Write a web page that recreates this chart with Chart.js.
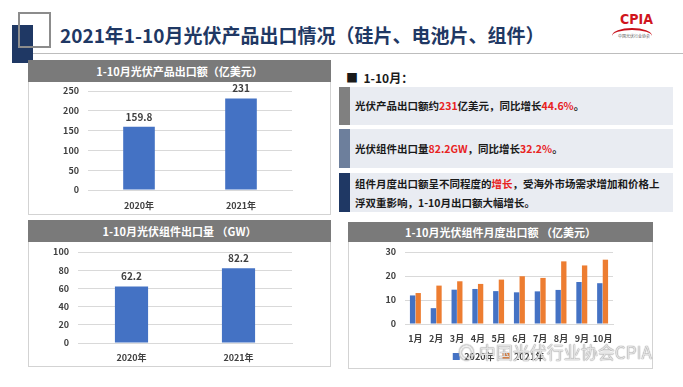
<!DOCTYPE html>
<html>
<head>
<meta charset="utf-8">
<script src="https://cdn.jsdelivr.net/npm/chart.js@4"></script>
<style>
  body { margin: 0; width: 683px; height: 387px; background: #fff; position: relative; overflow: hidden;
         font-family: "Noto Sans CJK SC", "Noto Sans", sans-serif; }
  .abs { position: absolute; }
  .hdr { position: absolute; background: #7a7a7a; color: #fff; font-weight: bold; font-size: 11px;
         text-align: center; line-height: 22px; height: 22px; }
  .box { position: absolute; border: 1px solid #d3d3d3; border-top: none; box-sizing: border-box; }
  .tb { position: absolute; left: 339px; width: 334px; background: #e9ecf2; font-weight: bold; font-size: 10.5px; color: #1a1a1a; }
  .tb .bar { position: absolute; left: 0; top: 0; bottom: 0; width: 11px; }
  .tb .t { position: absolute; left: 16px; right: 6px; }
  .red { color: #e8231f; }
</style>
</head>
<body>
<!-- title decoration -->
<div class="abs" style="left:12px;top:25px;width:21px;height:38px;background:#1f3864;"></div>
<div class="abs" style="left:18px;top:12px;width:29px;height:32px;border:2px solid #8c8c8c;"></div>
<div class="abs" style="left:33px;top:53px;width:650px;height:1px;background:#bdbdbd;"></div>
<div class="abs" style="left:60px;top:21px;font-size:19px;font-weight:bold;color:#1f3864;white-space:nowrap;">2021年1-10月光伏产品出口情况（硅片、电池片、组件）</div>
<!-- logo -->
<div class="abs" style="left:620px;top:11px;font-family:'Liberation Sans Narrow','DejaVu Sans Condensed',sans-serif;font-weight:bold;font-size:14px;color:#d0151d;">CPIA</div>
<div class="abs" style="left:612px;top:28px;width:40px;height:14px;border-top:2px solid #c8101a;border-radius:50% 50% 0 0;"></div>
<div class="abs" style="left:618px;top:33px;font-size:4px;color:#555;white-space:nowrap;">中国光伏行业协会</div>

<!-- left top panel -->
<div class="hdr" style="left:28px;top:60px;width:303px;">1-10月光伏产品出口额（亿美元）</div>
<div class="box" style="left:28px;top:82px;width:303px;height:133px;"></div>
<div class="abs" style="left:28px;top:82px;width:303px;height:132px;"><canvas id="c1"></canvas></div>

<!-- left bottom panel -->
<div class="hdr" style="left:28px;top:220px;width:303px;">1-10月光伏组件出口量 （GW）</div>
<div class="box" style="left:28px;top:242px;width:303px;height:125px;"></div>
<div class="abs" style="left:28px;top:242px;width:303px;height:124px;"><canvas id="c2"></canvas></div>

<!-- right text -->
<div class="abs" style="left:346px;top:69px;font-size:12px;font-weight:bold;color:#1a1a1a;">■&nbsp; 1-10月：</div>
<div class="tb" style="top:87px;height:38px;"><div class="bar" style="background:#808080;"></div>
  <div class="t" style="top:11px;">光伏产品出口额约<span class="red">231</span>亿美元，同比增长<span class="red">44.6%</span>。</div></div>
<div class="tb" style="top:129px;height:39px;"><div class="bar" style="background:#6d7f9c;"></div>
  <div class="t" style="top:12px;">光伏组件出口量<span class="red">82.2GW</span>，同比增长<span class="red">32.2%</span>。</div></div>
<div class="tb" style="top:173px;height:39px;"><div class="bar" style="background:#1f3864;"></div>
  <div class="t" style="top:1px;line-height:19px;">组件月度出口额呈不同程度的<span class="red">增长</span>，受海外市场需求增加和价格上浮双重影响，1-10月出口额大幅增长。</div></div>

<!-- right chart panel -->
<div class="hdr" style="left:348px;top:222px;width:305px;height:20px;line-height:20px;">1-10月光伏组件月度出口额 （亿美元）</div>
<div class="box" style="left:348px;top:242px;width:305px;height:127px;"></div>
<div class="abs" style="left:348px;top:242px;width:305px;height:131px;"><canvas id="c3"></canvas></div>

<!-- watermark -->
<div class="abs" style="left:458px;top:339px;font-size:17px;color:rgba(255,255,255,0.75);text-shadow:0 0 1px #888,0 0 1px #888;white-space:nowrap;">◎ 中国光伏行业协会CPIA</div>

<script>
var years = ['2020年', '2021年'];
var exportValue = [159.8, 231];
var moduleVolume = [62.2, 82.2];
var months = ['1月', '2月', '3月', '4月', '5月', '6月', '7月', '8月', '9月', '10月'];
var monthly2020 = [11.9, 6.6, 14.3, 14.6, 13.7, 13.2, 13.6, 14.2, 17.5, 17.0];
var monthly2021 = [12.9, 16.0, 17.8, 16.7, 18.5, 19.9, 19.2, 26.1, 24.4, 26.8];

var blue = '#4472c4';
var orange = '#ed7d31';
var fontFam = '"Noto Sans CJK SC", "Noto Sans", sans-serif';
Chart.defaults.font.family = fontFam;
Chart.defaults.color = '#404040';
Chart.defaults.animation = false;

// value above each bar
var valueLabels = {
    id: 'valueLabels',
    afterDatasetsDraw: function(chart) {
        var ctx = chart.ctx;
        ctx.save();
        ctx.font = 'bold 10px ' + fontFam;
        ctx.fillStyle = '#404040';
        ctx.textAlign = 'center';
        ctx.textBaseline = 'bottom';
        chart.getDatasetMeta(0).data.forEach(function(bar, i) {
            ctx.fillText(chart.data.datasets[0].data[i], bar.x, bar.y - 5);
        });
        ctx.restore();
    }
};

function xAxis(pad) {
    return {
        afterFit: function(s) { s.height = pad + 11; },
        grid: { display: false, drawTicks: false },
        border: { color: '#d9d9d9' },
        ticks: { font: { size: 9, weight: 'bold' }, color: '#404040', padding: pad, maxRotation: 0, autoSkip: false }
    };
}

function yAxis(max, step, w) {
    return {
        min: 0, max: max,
        afterFit: function(s) { s.width = w; s.paddingTop = 0; s.paddingBottom = 0; },
        grid: { color: '#d9d9d9', drawTicks: false },
        border: { display: false },
        ticks: { stepSize: step, font: { size: 9, weight: 'bold' }, color: '#404040', padding: 9 }
    };
}

function yearChart(id, data, max, step, axisW, xPad, pad) {
    return new Chart(document.getElementById(id), {
        type: 'bar',
        data: {
            labels: years,
            datasets: [{ data: data, backgroundColor: blue, categoryPercentage: 1, barPercentage: 0.31 }]
        },
        options: {
            responsive: true,
            maintainAspectRatio: false,
            layout: { padding: pad },
            plugins: { legend: { display: false }, tooltip: { enabled: false } },
            scales: { x: xAxis(xPad), y: yAxis(max, step, axisW) }
        },
        plugins: [valueLabels]
    });
}

yearChart('c1', exportValue, 250, 50, 60, 10, { top: 9, right: 39, bottom: 3, left: 0 });
yearChart('c2', moduleVolume, 100, 20, 50, 9, { top: 10, right: 39, bottom: 3, left: 0 });

new Chart(document.getElementById('c3'), {
    type: 'bar',
    data: {
        labels: months,
        datasets: [
            { label: '2020年', data: monthly2020, backgroundColor: blue, categoryPercentage: 0.54, barPercentage: 0.95 },
            { label: '2021年', data: monthly2021, backgroundColor: orange, categoryPercentage: 0.54, barPercentage: 0.95 }
        ]
    },
    options: {
        responsive: true,
        maintainAspectRatio: false,
        layout: { padding: { top: 10, right: 40, bottom: 2, left: 36 } },
        plugins: {
            tooltip: { enabled: false },
            legend: {
                position: 'bottom',
                labels: { boxWidth: 7, boxHeight: 7, padding: 8, font: { size: 9, weight: 'bold' }, color: '#404040' }
            }
        },
        scales: { x: xAxis(9), y: yAxis(30, 10, 21) }
    }
});
</script>
</body>
</html>
